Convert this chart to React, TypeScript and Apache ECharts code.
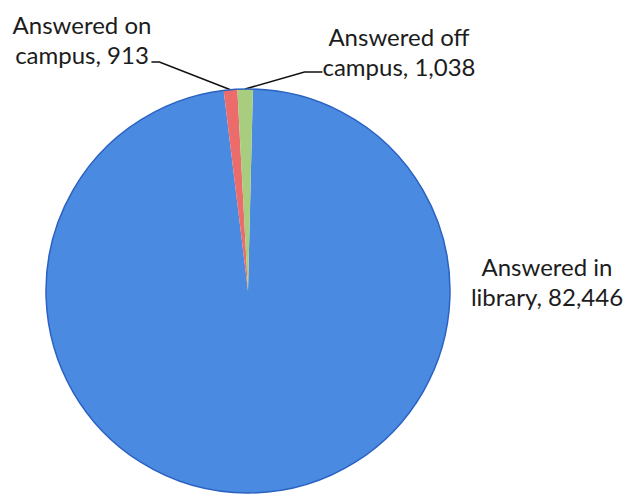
import React, { useEffect, useRef } from "react";
import * as echarts from "echarts";

const categories = ["Answered in library", "Answered on campus", "Answered off campus"];
const labelNames = ["Answered in\nlibrary", "Answered on\ncampus", "Answered off\ncampus"];
const values = [82446, 913, 1038];
const colors = ["#4a8ae0", "#ec6b6b", "#a8cd7e"];

export default function App() {
  const ref = useRef<HTMLDivElement>(null);
  useEffect(() => {
    const chart = echarts.init(ref.current!, null, { renderer: "svg" });
    const labelCfg = [
      { x: 547, y: 251, show: false, padBottom: 0, len2: 0 },
      { x: 82, y: 9, show: true, padBottom: 46, len2: 8 },
      { x: 399, y: 21, show: true, padBottom: 42, len2: 18 },
    ];
    chart.setOption({
      animation: false,
      backgroundColor: "#ffffff",
      series: [
        {
          type: "pie",
          center: [248, 291],
          radius: 202,
          startAngle: 88.6,
          clockwise: true,
          avoidLabelOverlap: false,
          data: values.map((v, i) => ({
            value: v,
            name: categories[i],
            itemStyle: { color: colors[i] },
            label: {
              padding: [0, 0, labelCfg[i].padBottom, 0],
              backgroundColor: "transparent",
            },
            labelLine: { show: labelCfg[i].show, length2: labelCfg[i].len2 },
          })),
          label: {
            show: true,
            position: "outside",
            formatter: (p: any) =>
              labelNames[p.dataIndex] + ", " + (p.value as number).toLocaleString("en-US"),
            fontFamily: "Lato",
            fontSize: 24,
            lineHeight: 30,
            color: "#1c1c1c",
            align: "center",
          },
          labelLine: {
            show: true,
            length: 10,
            length2: 10,
            lineStyle: { color: "#111", width: 1.5 },
          },
          labelLayout: (params: any) => {
            const p = labelCfg[params.dataIndex];
            return { x: p.x, y: p.y, align: "center", verticalAlign: "top" };
          },
        },
        {
          type: "pie",
          center: [248, 291],
          radius: 202,
          silent: true,
          label: { show: false },
          labelLine: { show: false },
          itemStyle: { color: "none", borderColor: "#2b62c2", borderWidth: 1.5 },
          data: [{ value: 1 }],
          z: 3,
        },
      ],
    });
    return () => chart.dispose();
  }, []);
  return (
    <div
      ref={ref}
      style={{ position: "fixed", left: 0, top: 0, width: 629, height: 495 }}
    />
  );
}
